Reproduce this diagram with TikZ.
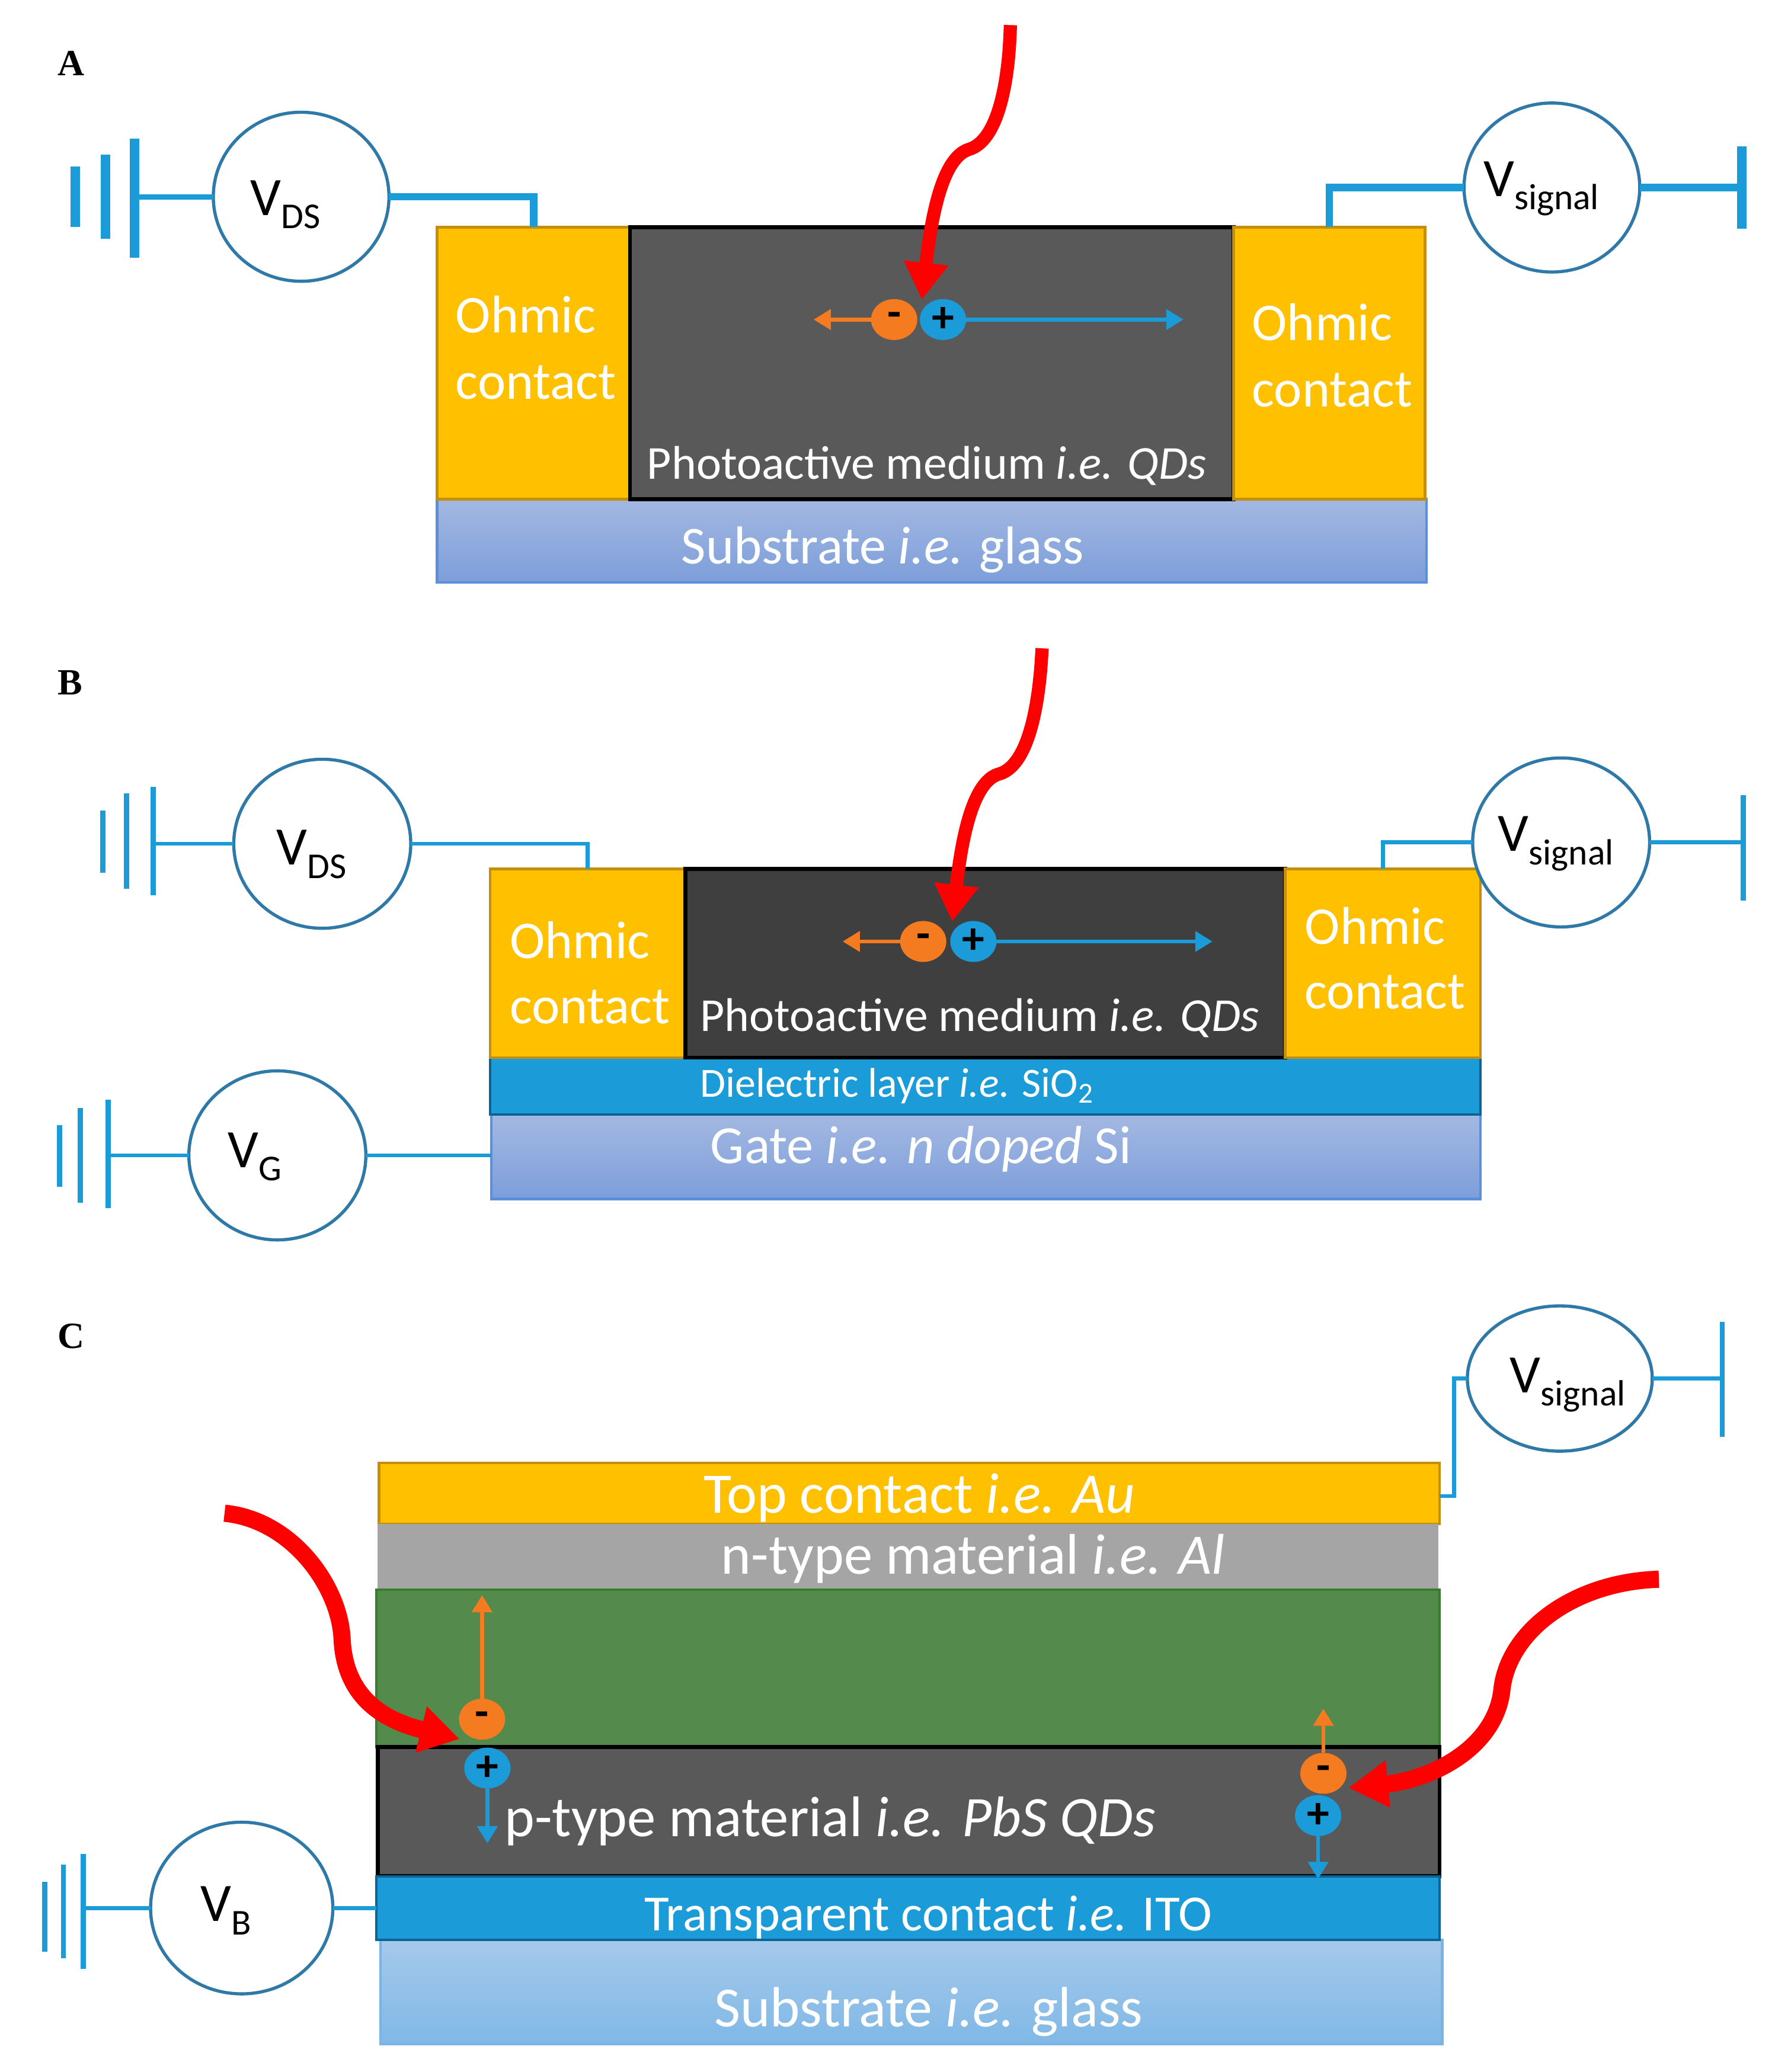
\documentclass[tikz,border=0pt]{standalone}
\usepackage{fontspec}
\setmainfont{Carlito}
\newfontfamily\lblfont{Liberation Serif}
\usetikzlibrary{arrows.meta,shapes.geometric}
\definecolor{gold}{HTML}{FFC000}
\definecolor{goldline}{HTML}{C48F0C}
\definecolor{wire}{HTML}{1B9CD9}
\definecolor{wiredark}{HTML}{0B6496}
\definecolor{ring}{HTML}{2F79A8}
\definecolor{grayA}{HTML}{595959}
\definecolor{grayB}{HTML}{3F3F3F}
\definecolor{alu}{HTML}{A5A5A5}
\definecolor{leaf}{HTML}{548A4B}
\definecolor{leafline}{HTML}{3B7D30}
\definecolor{eorange}{HTML}{F47B20}
\definecolor{redray}{HTML}{FF0000}
\definecolor{subTop}{HTML}{A3B8E2}
\definecolor{subBot}{HTML}{7D9EDA}
\definecolor{subLine}{HTML}{5B8FD9}
\definecolor{glassTop}{HTML}{A5C9EB}
\definecolor{glassBot}{HTML}{80B8E6}
\definecolor{glassLine}{HTML}{78B4E4}
\tikzset{
  x=0.5pt,y=-0.5pt,
  box/.style={rectangle,inner sep=0pt,outer sep=0pt,line width=1pt},
  contact/.style={box,fill=gold,draw=goldline},
  medium/.style={box,fill=grayA,draw=black,line width=1.5pt},
  substrateB/.style={box,top color=subTop,bottom color=subBot,draw=subLine},
  substrateC/.style={box,top color=glassTop,bottom color=glassBot,draw=glassLine},
  dielectric/.style={box,fill=wire,draw=wiredark},
  vmeter/.style={ellipse,draw=ring,fill=white,line width=1.2pt,inner sep=0pt,outer sep=0pt},
  wthin/.style={draw=wire,line width=1.5pt},
  wthick/.style={draw=wire,line width=2.8pt},
  bar/.style={draw=wire,line width=2pt},
  barA/.style={draw=wire,line width=3.6pt},
  ray/.style={draw=redray,line width=5pt,-{Triangle[length=14pt,width=16pt]}},
  rayC/.style={draw=redray,line width=6.5pt,-{Triangle[length=15pt,width=17pt]}},
  charge/.style={ellipse,inner sep=0pt,outer sep=0pt,minimum width=17.5pt,minimum height=15.5pt,text=black,font=\fontsize{17pt}{17pt}\selectfont\bfseries},
  negel/.style={charge,fill=eorange},
  poshole/.style={charge,fill=wire},
  oarrow/.style={draw=eorange,line width=1.5pt,-{Triangle[length=6.5pt,width=7.5pt]}},
  barrow/.style={draw=wire,line width=1.5pt,-{Triangle[length=6.5pt,width=7.5pt]}},
  txt/.style={text=white,inner sep=0pt,outer sep=0pt,anchor=base west,yshift=-0.5pt},
  panel/.style={inner sep=0pt,anchor=center,font=\lblfont\bfseries\fontsize{14pt}{14pt}\selectfont},
  vtext/.style={inner sep=0pt,anchor=center,text=black,yshift=-0.5pt},
}
% name, x1, y1, x2, y2, style
\newcommand\layer[6]{\node[#6,minimum width={(#4-#2)*0.5pt},minimum height={(#5-#3)*0.5pt}] (#1) at ({(#2+#4)/2},{(#3+#5)/2}) {};}
\newcommand\vmark[2]{{\fontsize{20.5pt}{20.5pt}\selectfont V\raisebox{#2}{\fontsize{13.8pt}{13.8pt}\selectfont #1}}}
\newcommand\fsA{\fontsize{20.1pt}{20.1pt}\selectfont}
\newcommand\fsC{\fontsize{21.7pt}{21.7pt}\selectfont}
\begin{document}
\begin{tikzpicture}
\useasboundingbox (-1,-1) rectangle (1355,1568.2);
\fill[white] (-1,-1) rectangle (1355,1568.2);
%% ---------- A
\node[panel] (lA) at (53,47) {A};
\layer{aSub}{330}{377}{1079}{440}{substrateB}
\layer{aCL}{330}{171}{476}{377}{contact}
\layer{aM}{476}{171}{933}{377}{medium}
\layer{aCR}{933}{171}{1078}{377}{contact}
\node[txt] (aT1) at (344,250) {\fsA Ohmic};
\node[txt] (aT2) at (344,300) {\fsA contact};
\node[txt] (aT3) at (947,256) {\fsA Ohmic};
\node[txt] (aT4) at (947,306) {\fsA contact};
\node[txt] (aT5) at (489,361) {\fontsize{17.9pt}{17.9pt}\selectfont Photoactive medium \textit{i.e. QDs}};
\node[txt] (aT6) at (515,425) {\fontsize{20.2pt}{20.2pt}\selectfont Substrate \textit{i.e.} glass};
\node[vmeter,minimum width=66.5pt,minimum height=64pt] (aV) at (227,148) {};
\node[vtext] (aVt) at (215,153) {\vmark{DS}{-5pt}};
\node[vmeter,minimum width=66.5pt,minimum height=64pt] (aS) at (1174,141) {};
\node[vtext] (aSt) at (1166,141) {\vmark{signal}{-5pt}};
\coordinate (aB1) at (56,148); \coordinate (aB2) at (79,148); \coordinate (aB3) at (101,148);
\draw[barA] (aB1)++(0,-23) -- ++(0,46);
\draw[barA] (aB2)++(0,-32) -- ++(0,64);
\draw[barA] (aB3)++(0,-44) -- ++(0,90);
\draw[wthin,line width=2pt] (aB3) -- (aV.west);
\draw[wthick] (aV.east) -| (aCL.north);
\draw[wthick] (aCR.north) |- (aS.west);
\coordinate (aG) at (1318,141);
\draw[wthick] (aS.east) -- (aG);
\draw[barA] (aG)++(0,-31) -- ++(0,62);
\node[negel] (aE) at (676,241) {-};
\node[poshole] (aH) at (713,241) {+};
\coordinate (aEe) at (615,241); \coordinate (aHe) at (895,241);
\draw[oarrow] (aE.west) -- (aEe);
\draw[barrow] (aH.east) -- (aHe);
\coordinate (aR0) at (764,18); \coordinate (aR1) at (697,226);
\draw[ray] (aR0) .. controls (763,60) and (755,105) .. (733,112) .. controls (712,118) and (704,165) .. (aR1);
%% ---------- B
\node[panel] (lB) at (52,516) {B};
\layer{bGate}{371}{843}{1120}{907}{substrateB}
\layer{bDi}{370}{800}{1120}{843}{dielectric}
\layer{bCL}{370}{657}{518}{800}{contact}
\layer{bM}{518}{657}{972}{800}{medium,fill=grayB}
\layer{bCR}{972}{657}{1120}{800}{contact}
\node[txt] (bT1) at (385,724) {\fsA Ohmic};
\node[txt] (bT2) at (385,773) {\fsA contact};
\node[txt] (bT3) at (987,713) {\fsA Ohmic};
\node[txt] (bT4) at (987,762) {\fsA contact};
\node[txt] (bT5) at (529,779) {\fontsize{17.9pt}{17.9pt}\selectfont Photoactive medium \textit{i.e. QDs}};
\node[txt] (bT6) at (529,829) {\fontsize{15.7pt}{15.7pt}\selectfont Dielectric layer \textit{i.e.} SiO\textsubscript{2}};
\node[txt] (bT7) at (537,879) {\fontsize{20.3pt}{20.3pt}\selectfont Gate \textit{i.e. n doped} Si};
\node[vmeter,minimum width=67pt,minimum height=64pt] (bV) at (243,638) {};
\node[vtext] (bVt) at (235,645) {\vmark{DS}{-5pt}};
\node[vmeter,minimum width=67pt,minimum height=64pt] (bS) at (1181,637) {};
\node[vtext] (bSt) at (1177,637) {\vmark{signal}{-5pt}};
\node[vmeter,minimum width=67pt,minimum height=64pt] (bG) at (209,874) {};
\node[vtext] (bGt) at (192,874) {\vmark{G}{-5pt}};
\coordinate (bB1) at (77,636); \coordinate (bB2) at (95,636); \coordinate (bB3) at (115,636);
\draw[bar] (bB1)++(0,-23) -- ++(0,47);
\draw[bar] (bB2)++(0,-36) -- ++(0,72);
\draw[bar] (bB3)++(0,-41) -- ++(0,82);
\draw[wthin] (bB3 |- bV.west) -- (bV.west);
\draw[wthin] (bV.east) -| (bCL.north);
\draw[wthin] (bCR.north) |- (bS.west);
\coordinate (bE0) at (1319,637);
\draw[wthin] (bS.east) -- (bE0);
\draw[bar] (bE0)++(0,-36) -- ++(0,80);
\coordinate (bC1) at (44,875); \coordinate (bC2) at (60,875); \coordinate (bC3) at (81,875);
\draw[bar] (bC1)++(0,-24) -- ++(0,47);
\draw[bar] (bC2)++(0,-37) -- ++(0,72);
\draw[bar] (bC3)++(0,-43) -- ++(0,82);
\draw[wthin] (bC3 |- bG.west) -- (bG.west);
\draw[wthin] (bG.east) -- (bG.east -| bGate.west);
\node[negel] (bE) at (698,712) {-};
\node[poshole] (bH) at (736,712) {+};
\coordinate (bEe) at (637,712); \coordinate (bHe) at (917,712);
\draw[oarrow] (bE.west) -- (bEe);
\draw[barrow] (bH.east) -- (bHe);
\coordinate (bR0) at (788,490); \coordinate (bR1) at (720,697);
\draw[ray] (bR0) .. controls (786,532) and (778,578) .. (756,585) .. controls (735,590) and (727,636) .. (bR1);
%% ---------- C
\node[panel] (lC) at (53,1011) {C};
\layer{cSub}{287}{1468}{1091}{1547}{substrateC}
\layer{cTop}{286}{1107}{1089}{1153}{contact}
\layer{cAl}{285}{1153}{1088}{1203}{box,fill=alu}
\layer{cGreen}{284}{1203}{1089}{1322}{box,fill=leaf,draw=leafline}
\layer{cDark}{285}{1322}{1089}{1420}{medium}
\layer{cITO}{284}{1420}{1089}{1468}{dielectric}
\node[txt] (cT1) at (532,1144) {\fsC Top contact \textit{i.e. Au}};
\node[txt] (cT2) at (545,1190) {\fsC n-type material \textit{i.e. Al}};
\node[txt] (cT3) at (381,1389) {\fsC p-type material \textit{i.e. PbS QDs}};
\node[txt] (cT4) at (487,1460) {\fontsize{19.2pt}{19.2pt}\selectfont Transparent contact \textit{i.e.} ITO};
\node[txt] (cT5) at (540,1533) {\fontsize{21.5pt}{21.5pt}\selectfont Substrate \textit{i.e.} glass};
\node[vmeter,minimum width=69pt,minimum height=65pt] (cV) at (182,1444) {};
\node[vtext] (cVt) at (170,1445) {\vmark{B}{-5pt}};
\node[vmeter,minimum width=70pt,minimum height=55pt] (cS) at (1180,1043) {};
\node[vtext] (cSt) at (1186,1047) {\vmark{signal}{-5pt}};
\coordinate (cB1) at (33,1446); \coordinate (cB2) at (47,1446); \coordinate (cB3) at (62,1446);
\draw[bar] (cB1)++(0,-22) -- ++(0,53);
\draw[bar] (cB2)++(0,-35) -- ++(0,71);
\draw[bar] (cB3)++(0,-43) -- ++(0,87);
\draw[wthin] (cB3 |- cV.west) -- (cV.west);
\draw[wthin] (cV.east) -- (cV.east -| cITO.west);
\coordinate (cTw) at (1100,1132);
\draw[wthin] (cTop.east |- cTw) -- (cTw) |- (cS.west);
\coordinate (cEnd) at (1303,1043);
\draw[wthin] (cS.east) -- (cEnd);
\draw[bar] (cEnd)++(0,-43) -- ++(0,87);
\node[negel] (cE1) at (364,1301) {-};
\node[poshole] (cH1) at (368,1338) {+};
\node[negel] (cE2) at (1001,1342) {-};
\node[poshole] (cH2) at (997,1374) {+};
\coordinate (cE1e) at (364,1207); \coordinate (cH1e) at (368,1395);
\coordinate (cE2e) at (1001,1293); \coordinate (cH2e) at (997,1422);
\draw[oarrow] (cE1.north) -- (cE1e);
\draw[barrow] (cH1.south) -- (cH1e);
\draw[oarrow] (cE2.north) -- (cE2e);
\draw[barrow] (cH2.south) -- (cH2e);
\coordinate (cR0) at (169,1145); \coordinate (cR1) at (347,1316);
\draw[rayC] (cR0) .. controls (220,1150) and (256,1200) .. (258,1240) .. controls (260,1285) and (290,1302) .. (cR1);
\coordinate (cR2) at (1255,1195); \coordinate (cR3) at (1020,1353);
\draw[rayC] (cR2) .. controls (1190,1197) and (1140,1235) .. (1136,1280) .. controls (1130,1325) and (1080,1347) .. (cR3);
\end{tikzpicture}
\end{document}
